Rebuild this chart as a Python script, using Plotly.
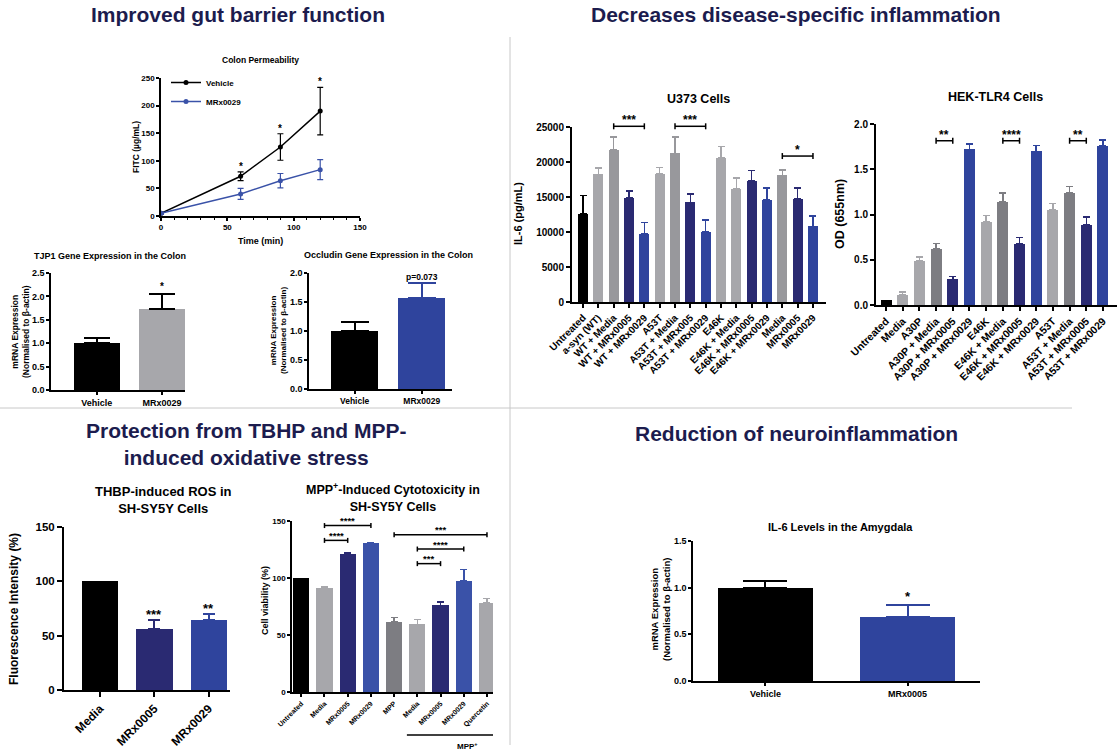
import plotly.graph_objects as go

W, H = 1120, 754
FONT = "Liberation Sans, Arial, Helvetica, sans-serif"
HEAD_FONT = "Liberation Sans, Arial, sans-serif"
HEAD_COLOR = "#1c1c4e"

BLACK = "#000000"
LGRAY = "#a7a7ab"
MGRAY = "#98989c"
DGRAY = "#7d7d82"
NAVY = "#2a2a72"
BLUE = "#2f449d"
BLUE2 = "#3a52a8"

# ---------------- data ----------------
perm_time = [0, 60, 90, 120]
perm_vehicle = [5, 72, 125, 190]
perm_vehicle_err = [2, 8, 24, 43]
perm_mrx0029 = [5, 40, 64, 84]
perm_mrx0029_err = [2, 10, 13, 18]
perm_sig = ["", "*", "*", "*"]

tjp1_groups = ["Vehicle", "MRx0029"]
tjp1_values = [1.0, 1.73]
tjp1_err = [0.11, 0.32]
tjp1_sig = ["", "*"]

occl_groups = ["Vehicle", "MRx0029"]
occl_values = [1.0, 1.57]
occl_err = [0.15, 0.26]
occl_sig = ["", "p=0.073"]

u373_labels = ["Untreated", "a-syn (WT)", "WT + Media", "WT + MRx0005", "WT + MRx0029",
               "A53T", "A53T + Media", "A53T + MRx005", "A53T + MRx0029",
               "E46K", "E46K + Media", "E46K + MRx0005", "E46K + MRx0029",
               "Media", "MRx0005", "MRx0029"]
u373_values = [12600, 18250, 21700, 14900, 9750, 18300, 21250, 14250, 10050,
               20600, 16150, 17300, 14550, 18100, 14700, 10800]
u373_err = [2650, 900, 1900, 950, 1600, 880, 2300, 1200, 1650,
            1600, 1550, 1500, 1750, 780, 1600, 1500]
u373_colors = [BLACK, LGRAY, MGRAY, NAVY, BLUE, LGRAY, MGRAY, NAVY, BLUE,
               LGRAY, LGRAY, NAVY, BLUE, MGRAY, NAVY, BLUE]
u373_sig_pairs = [(2, 4), (6, 8), (13, 15)]
u373_sig_labels = ["***", "***", "*"]
u373_sig_levels = [25100, 25100, 20850]

hek_labels = ["Untreated", "Media", "A30P", "A30P + Media", "A30P + MRx0005", "A30P + MRx0029",
              "E46K", "E46K + Media", "E46K + MRx0005", "E46K + MRx0029",
              "A53T", "A53T + Media", "A53T + MRx0005", "A53T + MRx0029"]
hek_values = [0.055, 0.11, 0.487, 0.62, 0.284, 1.72, 0.919, 1.137, 0.672, 1.697,
              1.052, 1.236, 0.882, 1.76]
hek_err = [0.0, 0.035, 0.045, 0.062, 0.03, 0.06, 0.07, 0.1, 0.073, 0.066,
           0.07, 0.075, 0.088, 0.066]
hek_colors = [BLACK, LGRAY, LGRAY, DGRAY, NAVY, BLUE, LGRAY, DGRAY, NAVY, BLUE,
              LGRAY, DGRAY, NAVY, BLUE]
hek_sig_pairs = [(3, 4), (7, 8), (11, 12)]
hek_sig_labels = ["**", "****", "**"]
hek_sig_levels = [1.815, 1.815, 1.815]

thbp_labels = ["Media", "MRx0005", "MRx0029"]
thbp_values = [100, 56, 64.3]
thbp_err = [0, 8, 5.2]
thbp_colors = [BLACK, NAVY, BLUE]
thbp_sig = ["", "***", "**"]

mpp_labels = ["Untreated", "Media", "MRx0005", "MRx0029", "MPP",
              "Media", "MRx0005", "MRx0029", "Quercetin"]
mpp_values = [100, 91.2, 121.3, 130.6, 61.4, 59.4, 76, 97.4, 78.4]
mpp_err = [0, 1.2, 0.8, 0.5, 3.8, 4.1, 3.0, 10.2, 3.8]
mpp_colors = [BLACK, LGRAY, NAVY, BLUE2, DGRAY, LGRAY, NAVY, BLUE2, LGRAY]
mpp_sig_pairs = [(1, 2), (1, 3), (4, 8), (5, 7), (5, 6)]
mpp_sig_labels = ["****", "****", "***", "****", "***"]
mpp_sig_levels = [133, 146, 138, 125.4, 112.6]

amyg_labels = ["Vehicle", "MRx0005"]
amyg_values = [1.0, 0.69]
amyg_err = [0.07, 0.125]
amyg_colors = [BLACK, BLUE]
amyg_sig = ["", "*"]

# ---------------- helpers ----------------
fig = go.Figure()
annotations = []
shapes = []
panel_geom = {}


def refs(n):
    return ("x" if n == 1 else f"x{n}"), ("y" if n == 1 else f"y{n}")


def keys(n):
    return ("xaxis" if n == 1 else f"xaxis{n}"), ("yaxis" if n == 1 else f"yaxis{n}")


def setup_axes(n, box, xrange, yrange, ytickvals, xtickvals=None, xticktext=None,
               ytick=9, xtick=9, xangle=0, lw=2, ticklen=4, xminor=None, yfmt=None):
    left, right, top, bottom = box
    panel_geom[n] = (top, bottom, yrange)
    xr, yr = refs(n)
    xk, yk = keys(n)
    xa = dict(domain=[left / W, right / W], range=xrange, anchor=yr, showline=True,
              linecolor="black", linewidth=lw, ticks="outside", ticklen=ticklen,
              tickwidth=lw, tickcolor="black", showgrid=False, zeroline=False,
              tickfont=dict(family=FONT, size=xtick, color="black", weight="bold"),
              tickangle=xangle, fixedrange=True, automargin=False)
    if xtickvals is not None:
        xa.update(tickmode="array", tickvals=xtickvals, ticktext=xticktext)
    if xminor:
        xa["minor"] = dict(ticks="outside", dtick=xminor, ticklen=2, tickwidth=1, tickcolor="black")
    ya = dict(domain=[1 - bottom / H, 1 - top / H], range=yrange, anchor=xr, showline=True,
              linecolor="black", linewidth=lw, ticks="outside", ticklen=ticklen,
              tickwidth=lw, tickcolor="black", showgrid=False, zeroline=False,
              tickmode="array", tickvals=ytickvals,
              tickfont=dict(family=FONT, size=ytick, color="black", weight="bold"),
              fixedrange=True, automargin=False)
    if yfmt:
        ya["tickformat"] = yfmt
    fig.update_layout({xk: xa, yk: ya})


def level_to_paper(n, v):
    top, bottom, (y0, y1) = panel_geom[n]
    px = bottom - (v - y0) / (y1 - y0) * (bottom - top)
    return 1 - px / H


def add_bars(n, values, errors, colors, width, cap, err_colors=None, thick=1.5):
    xr, yr = refs(n)
    for i, (v, e, c) in enumerate(zip(values, errors, colors)):
        ec = err_colors[i] if err_colors else c
        fig.add_trace(go.Bar(
            x=[i], y=[v], width=width, xaxis=xr, yaxis=yr,
            marker=dict(color=c, line=dict(width=0)),
            error_y=dict(type="data", array=[e], arrayminus=[0], symmetric=False,
                         color=ec, thickness=thick, width=cap, visible=e > 0),
            showlegend=False, hoverinfo="skip"))


def text(t, x, y, size, bold=True, angle=0, family=FONT, color="black",
         xanchor="center", yanchor="middle"):
    annotations.append(dict(text=t, x=x / W, y=1 - y / H, xref="paper", yref="paper",
                            showarrow=False, textangle=angle, xanchor=xanchor, yanchor=yanchor,
                            font=dict(family=family, size=size, color=color,
                                      weight="bold" if bold else "normal")))


def star(n, x, y, t, size, yshift=-2):
    xr, yr = refs(n)
    annotations.append(dict(text=t, x=x, y=y, xref=xr, yref=yr, showarrow=False,
                            yanchor="bottom", yshift=yshift,
                            font=dict(family=FONT, size=size, color="black", weight="bold")))


def bracket(n, a, b, level, t, size, yshift=-1, tick_px=3):
    xr, _ = refs(n)
    yp = level_to_paper(n, level)
    tk = tick_px / H
    line = dict(color="black", width=1.5)
    shapes.append(dict(type="line", xref=xr, yref="paper", x0=a, x1=b, y0=yp, y1=yp, line=line))
    for p in (a, b):
        shapes.append(dict(type="line", xref=xr, yref="paper", x0=p, x1=p,
                           y0=yp - tk, y1=yp + tk, line=line))
    annotations.append(dict(text=t, x=(a + b) / 2, y=yp, xref=xr, yref="paper", showarrow=False,
                            yanchor="bottom", yshift=yshift,
                            font=dict(family=FONT, size=size, color="black", weight="bold")))


# ---------------- Panel 1: Colon permeability ----------------
setup_axes(1, (161, 360, 78, 216), [0, 150], [0, 250], [0, 50, 100, 150, 200, 250],
           xtickvals=[0, 50, 100, 150], xticktext=["0", "50", "100", "150"],
           ytick=8, xtick=8, lw=1.5, ticklen=3, xminor=10)
fig.add_trace(go.Scatter(x=perm_time, y=perm_vehicle, name="Vehicle", mode="lines+markers",
                         line=dict(color="black", width=1.5), marker=dict(size=5, color="black"),
                         error_y=dict(type="data", array=perm_vehicle_err, color="black",
                                      thickness=1.2, width=3), xaxis="x", yaxis="y"))
fig.add_trace(go.Scatter(x=perm_time, y=perm_mrx0029, name="MRx0029", mode="lines+markers",
                         line=dict(color=BLUE2, width=1.5), marker=dict(size=5, color=BLUE2),
                         error_y=dict(type="data", array=perm_mrx0029_err, color=BLUE2,
                                      thickness=1.2, width=3), xaxis="x", yaxis="y"))
for t_, v_, e_, s_ in zip(perm_time, perm_vehicle, perm_vehicle_err, perm_sig):
    if s_:
        star(1, t_, v_ + e_ + 4, s_, 10, yshift=-4)
text("Colon Permeability", 260, 60, 8.5)
text("Time (min)", 260, 241, 9)
text("FITC (µg/mL)", 136, 147, 8.5, angle=-90)

# ---------------- Panel 2: TJP1 ----------------
setup_axes(2, (51, 185, 273, 390), [-0.7, 1.35], [0, 2.5], [0, 0.5, 1.0, 1.5, 2.0, 2.5],
           xtickvals=[0, 1], xticktext=tjp1_groups, ytick=9, xtick=9, lw=1.5, ticklen=3,
           yfmt=".1f")
add_bars(2, tjp1_values, tjp1_err, [BLACK, LGRAY], 0.7, 13, err_colors=[BLACK, BLACK], thick=2)
for i, (v_, e_, s_) in enumerate(zip(tjp1_values, tjp1_err, tjp1_sig)):
    if s_:
        star(2, i, v_ + e_, s_, 10, yshift=0)
text("TJP1 Gene Expression in the Colon", 110, 256, 9)
text("mRNA Expression<br>(Normalised to β-actin)", 20, 332, 8.5, angle=-90)

# ---------------- Panel 3: Occludin ----------------
setup_axes(3, (309, 452, 273, 389), [-0.68, 1.45], [0, 2.0], [0, 0.5, 1.0, 1.5, 2.0],
           xtickvals=[0, 1], xticktext=occl_groups, ytick=9, xtick=8.5, lw=1.5, ticklen=3,
           yfmt=".1f")
add_bars(3, occl_values, occl_err, [BLACK, BLUE], 0.7, 14, thick=2)
for i, (v_, e_, s_) in enumerate(zip(occl_values, occl_err, occl_sig)):
    if s_:
        star(3, i, v_ + e_, s_, 8.5, yshift=-1)
text("Occludin Gene Expression in the Colon", 388, 255, 9)
text("mRNA Expression<br>(Normalised to β-actin)", 278, 331, 8, angle=-90)

# ---------------- Panel 4: U373 ----------------
setup_axes(4, (572, 826, 127, 302), [-0.72, 15.85], [0, 25000],
           [0, 5000, 10000, 15000, 20000, 25000],
           xtickvals=list(range(len(u373_labels))), xticktext=u373_labels,
           ytick=10, xtick=10, xangle=-45, lw=2, ticklen=4, yfmt="d")
add_bars(4, u373_values, u373_err, u373_colors, 0.66, 3.5)
for (a, b), lab, lev in zip(u373_sig_pairs, u373_sig_labels, u373_sig_levels):
    bracket(4, a, b, lev, lab, 12, yshift=-3)
text("U373 Cells", 698, 99, 12.5)
text("IL-6 (pg/mL)", 518, 214, 11, angle=-90)

# ---------------- Panel 5: HEK-TLR4 ----------------
setup_axes(5, (876, 1117, 124, 305), [-0.6, 13.84], [0, 2.0], [0, 0.5, 1.0, 1.5, 2.0],
           xtickvals=list(range(len(hek_labels))), xticktext=hek_labels,
           ytick=10, xtick=10.5, xangle=-45, lw=2, ticklen=4, yfmt=".1f")
add_bars(5, hek_values, hek_err, hek_colors, 0.66, 3.5)
for (a, b), lab, lev in zip(hek_sig_pairs, hek_sig_labels, hek_sig_levels):
    bracket(5, a, b, lev, lab, 12, yshift=-3)
text("HEK-TLR4 Cells", 995, 97, 12.5)
text("OD (655nm)", 840, 214, 12.5, angle=-90)

# ---------------- Panel 6: THBP ----------------
setup_axes(6, (64, 230, 527, 690), [-0.66, 2.39], [0, 150], [0, 50, 100, 150],
           xtickvals=list(range(len(thbp_labels))), xticktext=thbp_labels,
           ytick=11.5, xtick=12, xangle=-45, lw=2, ticklen=5)
add_bars(6, thbp_values, thbp_err, thbp_colors, 0.67, 6, thick=2)
for i, (v_, e_, s_) in enumerate(zip(thbp_values, thbp_err, thbp_sig)):
    if s_:
        star(6, i, v_ + e_, s_, 13, yshift=-4)
text("THBP-induced ROS in<br>SH-SY5Y Cells", 163, 500, 13)
text("Fluorescence Intensity (%)", 14, 609, 12, angle=-90)

# ---------------- Panel 7: MPP+ ----------------
setup_axes(7, (292, 493, 521, 692), [-0.4, 8.26], [0, 150], [0, 50, 100, 150],
           xtickvals=list(range(len(mpp_labels))), xticktext=mpp_labels,
           ytick=8, xtick=7, xangle=-45, lw=1.5, ticklen=3)
add_bars(7, mpp_values, mpp_err, mpp_colors, 0.7, 3.5)
for (a, b), lab, lev in zip(mpp_sig_pairs, mpp_sig_labels, mpp_sig_levels):
    bracket(7, a, b, lev, lab, 9.5, yshift=-2.5, tick_px=2.5)
text("MPP<sup>+</sup>-Induced Cytotoxicity in<br>SH-SY5Y Cells", 393, 498, 12.5)
text("Cell viability (%)", 265, 601, 9, angle=-90)
shapes.append(dict(type="line", xref="x7", yref="paper", x0=4.55, x1=8.5,
                   y0=1 - 735 / H, y1=1 - 735 / H, line=dict(color="black", width=1.5)))
text("MPP<sup>+</sup>", 467, 746, 8)

# ---------------- Panel 8: Amygdala ----------------
setup_axes(8, (693, 980, 541, 681), [-0.51, 1.51], [0, 1.5], [0, 0.5, 1.0, 1.5],
           xtickvals=[0, 1], xticktext=amyg_labels, ytick=9, xtick=9, lw=1.5, ticklen=3,
           yfmt=".1f")
add_bars(8, amyg_values, amyg_err, amyg_colors, 0.67, 22, thick=2)
for i, (v_, e_, s_) in enumerate(zip(amyg_values, amyg_err, amyg_sig)):
    if s_:
        star(8, i, v_ + e_, s_, 13, yshift=-1)
text("IL-6 Levels in the Amygdala", 840, 527, 11)
text("mRNA Expression<br>(Normalised to β-actin)", 660, 610, 9.5, angle=-90)

# ---------------- Section headings & dividers ----------------
HS = 21
text("Improved gut barrier function", 238, 14, HS, family=HEAD_FONT, color=HEAD_COLOR)
text("Decreases disease-specific inflammation", 796, 14, HS, family=HEAD_FONT, color=HEAD_COLOR)
text("Protection from TBHP and MPP-<br>induced oxidative stress", 246, 444, HS,
     family=HEAD_FONT, color=HEAD_COLOR)
text("Reduction of neuroinflammation", 796, 433, HS, family=HEAD_FONT, color=HEAD_COLOR)
shapes.append(dict(type="line", xref="paper", yref="paper", x0=510 / W, x1=510 / W,
                   y0=1 - 745 / H, y1=1 - 37 / H, line=dict(color="#c8c8c8", width=1)))
shapes.append(dict(type="line", xref="paper", yref="paper", x0=0, x1=1072 / W,
                   y0=1 - 408 / H, y1=1 - 408 / H, line=dict(color="#c8c8c8", width=1)))

fig.update_layout(
    width=W, height=H, margin=dict(l=0, r=0, t=0, b=0, autoexpand=False),
    paper_bgcolor="white", plot_bgcolor="white",
    barmode="overlay", bargap=0,
    annotations=annotations, shapes=shapes,
    font=dict(family=FONT, color="black"),
    legend=dict(x=166 / W, y=1 - 68 / H, xanchor="left", yanchor="top",
                bgcolor="rgba(0,0,0,0)", font=dict(family=FONT, size=8, weight="bold"),
                itemwidth=30, tracegroupgap=0),
)

fig.write_html("out.html")
